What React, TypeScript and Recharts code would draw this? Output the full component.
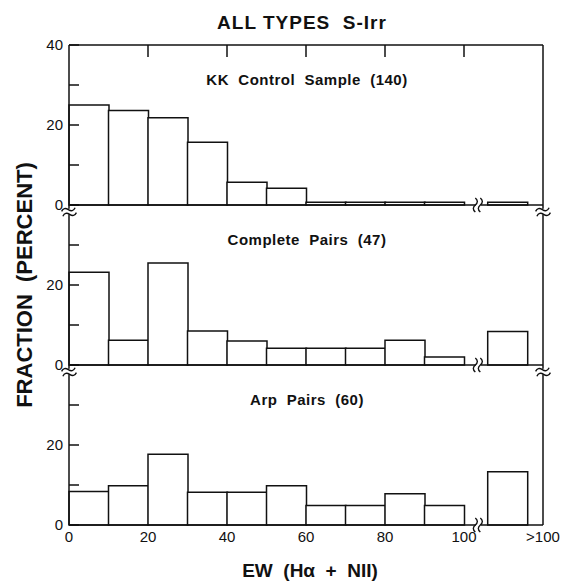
import React from "react";
import { BarChart, Bar, XAxis, YAxis, ReferenceDot } from "recharts";

const W = 561;
const H = 582;
const FONT = '"Liberation Sans", Arial, Helvetica, sans-serif';
const INK = "#111";

// bin centres on the EW axis; the last one is the ">100" bin, past the axis break
const binCentres = [5, 15, 25, 35, 45, 55, 65, 75, 85, 95, 111];

const kkControl = [25, 23.6, 21.8, 15.7, 5.7, 4.2, 0.7, 0.7, 0.7, 0.7, 0.7];
const completePairs = [23.2, 6.2, 25.5, 8.5, 6.0, 4.2, 4.2, 4.2, 6.2, 2.0, 8.4];
const arpPairs = [8.4, 9.8, 17.7, 8.2, 8.2, 9.8, 4.9, 4.9, 7.8, 4.9, 13.3];

const xTickValues = [0, 20, 40, 60, 80, 100, 120];
const xTickLabels = ["0", "20", "40", "60", "80", "100", ">100"];
const topTickValues = [20, 40, 60, 80, 100];
const yTickValues = [0, 10, 20, 30, 40];
const breakAt = 103.5;

const PLOT_LEFT = 69;
const PLOT_RIGHT = 543;
const PANEL_H = 160;
const LEFT_W = 30;
const RIGHT_W = 10;

function LeftTick({ x, y, payload, labels }: any) {
  const v = payload.value;
  return (
    <g>
      <line x1={x + 6} x2={x + 16} y1={y} y2={y} stroke={INK} strokeWidth={1.5} />
      {labels.includes(v) && (
        <text x={x} y={y} dy={5} textAnchor="end" fontSize={15} fill={INK} fontFamily={FONT}>
          {v}
        </text>
      )}
    </g>
  );
}

function RightTick({ x, y }: any) {
  return <line x1={x - 10} x2={x} y1={y} y2={y} stroke={INK} strokeWidth={1.5} />;
}

function TopTick({ x, y }: any) {
  return <line x1={x} x2={x} y1={y} y2={y + 12} stroke={INK} strokeWidth={1.5} />;
}

function BottomTick({ x, y, payload, index }: any) {
  return (
    <text x={x} y={y} dy={17} textAnchor="middle" fontSize={15} fill={INK} fontFamily={FONT}>
      {xTickLabels[index] ?? payload.value}
    </text>
  );
}

// wavy "≈" break mark; vertical=true for the break on the horizontal axis
function AxisBreak({ cx, cy, vertical, down }: any) {
  const oy = down ? 7 : 0;
  const wave = "M -7 0 q 3.5 -4 7 0 t 7 0";
  return (
    <g transform={`translate(${cx},${cy + oy}) rotate(${vertical ? 90 : -15})`}>
      <rect x={-5} y={-3} width={10} height={5} fill="#fff" />
      <path d={wave} transform="translate(0,-2.5)" fill="none" stroke={INK} strokeWidth={1.4} />
      <path d={wave} transform="translate(0,2.5)" fill="none" stroke={INK} strokeWidth={1.4} />
    </g>
  );
}

function Panel({
  values,
  top,
  first,
  last,
}: {
  values: number[];
  top: number;
  first?: boolean;
  last?: boolean;
}) {
  const data = binCentres.map((x, i) => ({ x, v: values[i] }));
  const topH = first ? 5 : 0;
  const bottomH = last ? 30 : 5;
  return (
    <div style={{ position: "absolute", left: 0, top: 0 }}>
      <BarChart
        width={W}
        height={H}
        data={data}
        barCategoryGap={0}
        margin={{
          top: top - topH,
          bottom: H - (top + PANEL_H) - bottomH,
          left: PLOT_LEFT - LEFT_W,
          right: W - PLOT_RIGHT - RIGHT_W,
        }}
      >
        {first && (
          <XAxis
            xAxisId="t"
            orientation="top"
            type="number"
            dataKey="x"
            domain={[0, 120]}
            ticks={topTickValues}
            height={topH}
            tickSize={0}
            tickMargin={0}
            tickLine={false}
            axisLine={{ stroke: INK, strokeWidth: 1.5 }}
            tick={<TopTick />}
          />
        )}
        <XAxis
          xAxisId="b"
          type="number"
          dataKey="x"
          domain={[0, 120]}
          ticks={last ? xTickValues : [0, 120]}
          height={bottomH}
          tickSize={0}
          tickMargin={0}
          tickLine={false}
          axisLine={{ stroke: INK, strokeWidth: 1.5 }}
          tick={last ? <BottomTick /> : () => <g />}
        />
        <YAxis
          yAxisId="l"
          domain={[0, 40]}
          ticks={yTickValues}
          width={LEFT_W}
          tickSize={0}
          tickMargin={6}
          tickLine={false}
          axisLine={{ stroke: INK, strokeWidth: 1.5 }}
          tick={<LeftTick labels={first ? [0, 20, 40] : [0, 20]} />}
        />
        <YAxis
          yAxisId="r"
          orientation="right"
          domain={[0, 40]}
          ticks={[10, 20, 30]}
          width={RIGHT_W}
          tickSize={0}
          tickMargin={0}
          tickLine={false}
          axisLine={{ stroke: INK, strokeWidth: 1.5 }}
          tick={<RightTick />}
        />
        <Bar
          xAxisId="b"
          yAxisId="l"
          dataKey="v"
          fill="#fff"
          stroke={INK}
          strokeWidth={1.5}
          isAnimationActive={false}
        />
        <ReferenceDot
          xAxisId="b"
          yAxisId="l"
          x={breakAt}
          y={0}
          ifOverflow="visible"
          shape={(p: any) => <AxisBreak cx={p.cx} cy={p.cy} vertical />}
        />
        {!first && (
          <ReferenceDot
            xAxisId="b"
            yAxisId="l"
            x={0}
            y={40}
            ifOverflow="visible"
            shape={(p: any) => <AxisBreak cx={p.cx} cy={p.cy} down />}
          />
        )}
        {!first && (
          <ReferenceDot
            xAxisId="b"
            yAxisId="l"
            x={120}
            y={40}
            ifOverflow="visible"
            shape={(p: any) => <AxisBreak cx={p.cx} cy={p.cy} down />}
          />
        )}
      </BarChart>
    </div>
  );
}

const panelTitles = ["KK  Control  Sample  (140)", "Complete  Pairs  (47)", "Arp  Pairs  (60)"];
const panelTops = [45, 205, 365];

export default function App() {
  return (
    <div
      style={{
        position: "absolute",
        left: 0,
        top: 0,
        width: W,
        height: H,
        background: "#fff",
        overflow: "hidden",
      }}
    >
      <Panel values={kkControl} top={panelTops[0]} first />
      <Panel values={completePairs} top={panelTops[1]} />
      <Panel values={arpPairs} top={panelTops[2]} last />
      <svg
        width={W}
        height={H}
        style={{ position: "absolute", left: 0, top: 0, pointerEvents: "none" }}
        fontFamily={FONT}
        fontWeight="bold"
        fill={INK}
      >
        <text x={302} y={28.5} fontSize={19} letterSpacing={1} textAnchor="middle" style={{ whiteSpace: "pre" }}>
          {"ALL TYPES  S-Irr"}
        </text>
        {panelTitles.map((t, i) => (
          <text
            key={t}
            x={307}
            y={panelTops[i] + 40}
            fontSize={15}
            letterSpacing={0.5}
            textAnchor="middle"
            style={{ whiteSpace: "pre" }}
          >
            {t}
          </text>
        ))}
        <text x={310} y={577} fontSize={19} textAnchor="middle" style={{ whiteSpace: "pre" }}>
          {"EW  (H\u03b1  +  NII)"}
        </text>
        <text
          x={32}
          y={285}
          fontSize={22}
          textAnchor="middle"
          transform="rotate(-90 32 285)"
          style={{ whiteSpace: "pre" }}
        >
          {"FRACTION  (PERCENT)"}
        </text>
      </svg>
    </div>
  );
}
